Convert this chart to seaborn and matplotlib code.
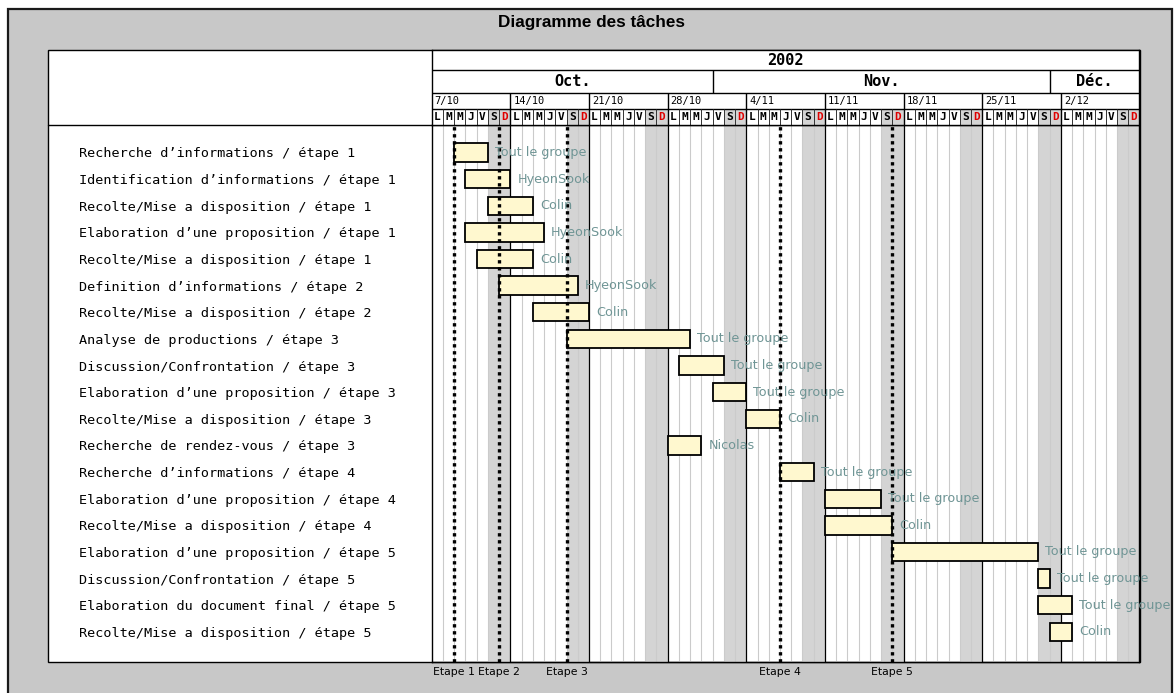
import matplotlib
matplotlib.use("Agg")
import matplotlib.pyplot as plt
from matplotlib.patches import Rectangle
import pandas as pd
import seaborn as sns

# Task list (top to bottom)
tasks = [
    "Recherche d’informations / étape 1",
    "Identification d’informations / étape 1",
    "Recolte/Mise a disposition / étape 1",
    "Elaboration d’une proposition / étape 1",
    "Recolte/Mise a disposition / étape 1",
    "Definition d’informations / étape 2",
    "Recolte/Mise a disposition / étape 2",
    "Analyse de productions / étape 3",
    "Discussion/Confrontation / étape 3",
    "Elaboration d’une proposition / étape 3",
    "Recolte/Mise a disposition / étape 3",
    "Recherche de rendez-vous / étape 3",
    "Recherche d’informations / étape 4",
    "Elaboration d’une proposition / étape 4",
    "Recolte/Mise a disposition / étape 4",
    "Elaboration d’une proposition / étape 5",
    "Discussion/Confrontation / étape 5",
    "Elaboration du document final / étape 5",
    "Recolte/Mise a disposition / étape 5",
]
owners = [
    "Tout le groupe", "HyeonSook", "Colin", "HyeonSook", "Colin", "HyeonSook",
    "Colin", "Tout le groupe", "Tout le groupe", "Tout le groupe", "Colin",
    "Nicolas", "Tout le groupe", "Tout le groupe", "Colin", "Tout le groupe",
    "Tout le groupe", "Tout le groupe", "Colin",
]
# days counted from Monday 7/10/2002
start_day = [2, 3, 5, 3, 4, 6, 9, 12, 22, 25, 28, 21, 31, 35, 35, 41, 54, 54, 55]
end_day = [5, 7, 9, 10, 9, 13, 14, 23, 26, 28, 31, 24, 34, 40, 41, 54, 55, 57, 57]

milestone_names = ["Etape 1", "Etape 2", "Etape 3", "Etape 4", "Etape 5"]
milestone_day = [2, 6, 12, 31, 41]

year_label = "2002"
month_names = ["Oct.", "Nov.", "Déc."]
month_first_day = [0, 25, 55]
week_labels = ["7/10", "14/10", "21/10", "28/10", "4/11", "11/11", "18/11", "25/11", "2/12"]
day_letters = ["L", "M", "M", "J", "V", "S", "D"]
n_days = 63

df = pd.DataFrame({"row": range(len(tasks)), "task": tasks, "owner": owners,
                   "start": start_day, "end": end_day})
df["duration"] = df["end"] - df["start"]

sns.set_theme(style="white")
plt.rcParams["font.family"] = ["DejaVu Sans"]
plt.rcParams["text.color"] = "black"
plt.rcParams["ytick.color"] = "black"
plt.rcParams["ytick.labelcolor"] = "black"

W, H = 1175, 693
fig = plt.figure(figsize=(W / 100, H / 100), dpi=100)
fig.patch.set_facecolor("white")


def px_rect(x0, y0, x1, y1):
    return [x0 / W, 1 - y1 / H, (x1 - x0) / W, (y1 - y0) / H]


MONO = "DejaVu Sans Mono"
X0, X1 = 431.7, 1139.5
PANEL_L, PANEL_T, HEAD_B, PANEL_B = 48.3, 50, 125, 661.7

# outer frame and white panel
bg = fig.add_axes([0, 0, 1, 1], zorder=0)
bg.set_xlim(0, W)
bg.set_ylim(H, 0)
bg.axis("off")
bg.add_patch(Rectangle((8, 9), 1164, 700, facecolor="#c8c8c8", edgecolor="#1a1a1a", lw=1.6))
bg.add_patch(Rectangle((PANEL_L, PANEL_T), X1 - PANEL_L, PANEL_B - PANEL_T,
                       facecolor="white", edgecolor="black", lw=1.0))
bg.plot([PANEL_L, X0], [HEAD_B, HEAD_B], color="black", lw=1.0)
bg.text(592, 22, "Diagramme des tâches", ha="center", va="center", color="black",
        fontsize=12.3, fontweight="bold", family="Liberation Sans")

# ---- body ----
ax = fig.add_axes(px_rect(X0, HEAD_B, X1, PANEL_B), zorder=2)
ax.set_facecolor("none")

for w in range(n_days // 7):
    ax.axvspan(7 * w + 5, 7 * w + 7, color="#d4d4d4", lw=0, zorder=0)
for d in range(1, n_days):
    if d % 7:
        ax.axvline(d, color="#cbcbcb", lw=0.8, zorder=0.5)
    else:
        ax.axvline(d, color="black", lw=0.9, zorder=0.6)

sns.barplot(data=df, y="row", x="duration", orient="y", left=df["start"].to_numpy(),
            width=0.69, color="#fff8cf", saturation=1, edgecolor="black",
            linewidth=1.3, errorbar=None, ax=ax, zorder=2)

for d, name in zip(milestone_day, milestone_names):
    ax.axvline(d, color="black", lw=2.4, ls=(0, (1, 1.1)), zorder=3)
    ax.annotate(name, xy=(d, 0), xycoords=("data", "axes fraction"),
                xytext=(0, -10.5), textcoords="offset pixels",
                ha="center", va="center", fontsize=7.8, color="black",
                annotation_clip=False)

for r in df.itertuples():
    ax.annotate(r.owner, xy=(r.end, r.row), xytext=(7, 0), textcoords="offset pixels",
                ha="left", va="center", fontsize=9.2, color="#6f9595", zorder=4,
                annotation_clip=False)

ax.set_xlim(0, n_days)
row0, row_step = 152.5, 26.63
ax.set_ylim((PANEL_B - row0) / row_step, (HEAD_B - row0) / row_step)
ax.set_xticks([])
ax.set_xlabel("")
ax.set_ylabel("")
ax.set_yticks(df["row"], labels=df["task"])
ax.tick_params(axis="y", length=0, pad=(X0 - 79) * 0.72, labelsize=9.7, labelcolor="black")
for t in ax.get_yticklabels():
    t.set_horizontalalignment("left")
    t.set_family(MONO)
for s in ax.spines.values():
    s.set_visible(True)
    s.set_color("black")
    s.set_linewidth(1.0)

# ---- header ----
hx = fig.add_axes(px_rect(X0, PANEL_T, X1, HEAD_B), zorder=2)
hx.set_facecolor("white")
hx.set_xlim(0, n_days)
hx.set_ylim(HEAD_B - PANEL_T, 0)
hx.set_xticks([])
hx.set_yticks([])
for s in hx.spines.values():
    s.set_visible(True)
    s.set_color("black")
    s.set_linewidth(1.0)

y_month, y_week, y_day, y_end = 20, 42.7, 59, 75
weeks = list(range(n_days // 7))
hx.bar([7 * w + 5 for w in weeks], y_end - y_day, width=2, bottom=y_day,
       align="edge", color="#d4d4d4", lw=0, zorder=0)
for yy in (y_month, y_week, y_day):
    hx.axhline(yy, color="black", lw=1.0)
hx.vlines(month_first_day[1:], y_month, y_week, color="black", lw=1.0)
hx.vlines([7 * w for w in weeks[1:]], y_week, y_end, color="black", lw=1.0)
hx.vlines([d for d in range(1, n_days) if d % 7], y_day, y_end, color="#333333", lw=0.7)

hx.text(n_days / 2, (0 + y_month) / 2 + 0.5, year_label, ha="center", va="center",
        fontsize=11, fontweight="bold", family=MONO, color="black")
month_last_day = month_first_day[1:] + [n_days]
for name, a, b in zip(month_names, month_first_day, month_last_day):
    hx.text((a + b) / 2, (y_month + y_week) / 2 + 0.5, name, ha="center", va="center",
            fontsize=11, fontweight="bold", family=MONO, color="black")
for w, lbl in zip(weeks, week_labels):
    hx.annotate(lbl, xy=(7 * w, (y_week + y_day) / 2), xytext=(3, 0),
                textcoords="offset pixels", ha="left", va="center",
                fontsize=7.5, family=MONO, color="black")
for d in range(n_days):
    letter = day_letters[d % 7]
    hx.text(d + 0.5, (y_day + y_end) / 2 + 0.3, letter, ha="center", va="center",
            fontsize=8, fontweight="bold", family=MONO,
            color="#e00000" if d % 7 == 6 else "black")

fig.savefig("out.png", dpi=100)
